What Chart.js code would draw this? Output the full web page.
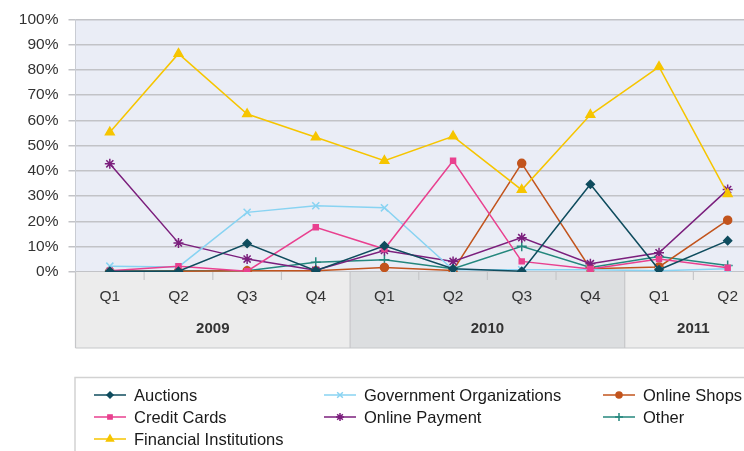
<!DOCTYPE html>
<html>
<head>
<meta charset="utf-8">
<script src="https://cdn.jsdelivr.net/npm/chart.js@4/dist/chart.umd.min.js"></script>
<style>
  html, body { margin: 0; padding: 0; background: #ffffff; overflow: hidden; }
  #wrap { width: 744px; height: 451px; overflow: hidden; position: relative; }
  canvas { display: block; }
</style>
</head>
<body>
<div id="wrap"><canvas id="chart" width="790" height="451"></canvas></div>
<script>
// Quarter categories and the years they belong to
const quarters = ['Q1', 'Q2', 'Q3', 'Q4', 'Q1', 'Q2', 'Q3', 'Q4', 'Q1', 'Q2'];
const years = ['2009', '2010', '2011'];
const quartersPerYear = [4, 4, 2];
const yTicks = [0, 10, 20, 30, 40, 50, 60, 70, 80, 90, 100];

// Share of targets per sector (%)
const auctions = [0.3, 0.3, 11.3, 0.5, 10.4, 1.3, 0.3, 34.7, 0.9, 12.4];
const creditCards = [0.5, 2.3, 0.3, 17.7, 9.1, 44.0, 4.2, 1.2, 5.1, 1.7];
const financialInstitutions = [55.3, 86.4, 62.5, 53.3, 44.0, 53.7, 32.5, 62.2, 81.2, 30.9];
const governmentOrgs = [2.3, 2.0, 23.6, 26.2, 25.4, 0.9, 0.9, 0.9, 0.5, 1.3];
const onlinePayment = [42.8, 11.5, 5.1, 0.7, 8.5, 4.2, 13.6, 3.3, 7.6, 32.6];
const onlineShops = [0.3, 0.3, 0.5, 0.5, 1.8, 0.6, 43.0, 1.3, 2.0, 20.5];
const other = [0.3, 0.5, 0.5, 3.9, 4.8, 1.3, 10.2, 1.8, 6.1, 2.6];

const FONT = '"Liberation Sans", Arial, Helvetica, sans-serif';

function series(label, data, color, pointStyle, radius) {
  return {
    label, data,
    borderColor: color,
    backgroundColor: color,
    pointBackgroundColor: color,
    pointBorderColor: color,
    pointStyle,
    pointRadius: radius,
    pointBorderWidth: 1.5,
    borderWidth: 1.5,
    tension: 0,
    fill: false
  };
}

const datasets = [
  series('Auctions', auctions, '#0f4c5e', 'rectRot', 4),
  series('Credit Cards', creditCards, '#e9408f', 'rect', 3.5),
  series('Financial Institutions', financialInstitutions, '#f6c500', 'triangle', 5),
  series('Government Organizations', governmentOrgs, '#88d3f2', 'crossRot', 5),
  series('Online Payment', onlinePayment, '#7b1f7d', 'star', 5),
  series('Online Shops', onlineShops, '#c2541d', 'circle', 4),
  series('Other', other, '#24877d', 'cross', 5)
];

// Legend layout: columns of dataset indices
const legendColumns = [[0, 1, 2], [3, 4], [5, 6]];
const legendColX = [94, 324, 603];
const legendRowY = [395, 417, 439];

const plotBackground = {
  id: 'plotBackground',
  beforeDraw(chart) {
    const { ctx, chartArea: a } = chart;
    ctx.save();
    ctx.fillStyle = '#eaedf6';
    ctx.fillRect(a.left, a.top, a.right - a.left, a.bottom - a.top);
    ctx.restore();
  }
};

// Two-level category band below the plot: quarters and years
const periodAxis = {
  id: 'periodAxis',
  afterDraw(chart) {
    const { ctx, chartArea: a } = chart;
    const xs = chart.scales.x;
    const top = a.bottom;
    const bottom = top + 76;
    const edge = i => {
      if (i <= 0) return a.left;
      if (i >= quarters.length) return a.right;
      return (xs.getPixelForValue(i - 1) + xs.getPixelForValue(i)) / 2;
    };
    ctx.save();
    let start = 0;
    years.forEach((yr, k) => {
      const x0 = edge(start), x1 = edge(start + quartersPerYear[k]);
      ctx.fillStyle = k % 2 === 1 ? '#dcdee0' : '#ececec';
      ctx.fillRect(x0, top, x1 - x0, bottom - top);
      start += quartersPerYear[k];
    });
    ctx.strokeStyle = '#c6c7c9';
    ctx.lineWidth = 1.2;
    ctx.beginPath();
    ctx.moveTo(a.left, bottom); ctx.lineTo(a.right, bottom);
    ctx.moveTo(a.left, top); ctx.lineTo(a.left, bottom);
    start = 0;
    years.forEach((yr, k) => {
      start += quartersPerYear[k];
      const x = edge(start);
      ctx.moveTo(x, top); ctx.lineTo(x, bottom);
    });
    for (let i = 1; i < quarters.length; i++) {
      ctx.moveTo(edge(i), top); ctx.lineTo(edge(i), top + 8);
    }
    ctx.stroke();

    ctx.fillStyle = '#333333';
    ctx.textAlign = 'center';
    ctx.textBaseline = 'middle';
    ctx.font = '15.5px ' + FONT;
    quarters.forEach((q, i) => ctx.fillText(q, xs.getPixelForValue(i), top + 25));
    ctx.font = 'bold 15px ' + FONT;
    start = 0;
    years.forEach((yr, k) => {
      const x0 = edge(start), x1 = edge(start + quartersPerYear[k]);
      ctx.fillText(yr, (x0 + x1) / 2, top + 57);
      start += quartersPerYear[k];
    });
    ctx.restore();
  }
};

const boxLegend = {
  id: 'boxLegend',
  afterDraw(chart) {
    const { ctx } = chart;
    ctx.save();
    ctx.strokeStyle = '#d2d2d2';
    ctx.lineWidth = 1.5;
    ctx.strokeRect(75, 377.5, 760, 120);
    ctx.font = '16.5px ' + FONT;
    ctx.textBaseline = 'middle';
    ctx.textAlign = 'left';
    legendColumns.forEach((col, c) => {
      col.forEach((di, r) => {
        const ds = chart.data.datasets[di];
        const x = legendColX[c], y = legendRowY[r];
        ctx.strokeStyle = ds.borderColor;
        ctx.fillStyle = ds.borderColor;
        ctx.lineWidth = 1.5;
        ctx.beginPath();
        ctx.moveTo(x, y); ctx.lineTo(x + 32, y);
        ctx.stroke();
        Chart.helpers.drawPoint(ctx, {
          pointStyle: ds.pointStyle,
          radius: Math.max(3, ds.pointRadius - 1),
          borderWidth: 1.5,
          rotation: 0
        }, x + 16, y);
        ctx.fillStyle = '#1a1a1a';
        ctx.fillText(ds.label, x + 40, y + 1);
      });
    });
    ctx.restore();
  }
};

new Chart(document.getElementById('chart'), {
  type: 'line',
  data: { labels: quarters, datasets },
  options: {
    responsive: false,
    animation: false,
    devicePixelRatio: 1,
    layout: { padding: { top: 16, bottom: 179, left: 0, right: 28 } },
    plugins: { legend: { display: false }, tooltip: { enabled: false } },
    scales: {
      x: { type: 'category', offset: true, display: false },
      y: {
        min: 0, max: 100,
        afterFit(s) { s.width = 75.5; },
        afterBuildTicks(s) { s.ticks = yTicks.map(v => ({ value: v })); },
        ticks: {
          callback: v => v + '%',
          color: '#333333',
          padding: 10,
          font: { family: FONT, size: 15.5 }
        },
        grid: { color: '#c2c3c7', lineWidth: 1.5, tickLength: 7 },
        border: { color: '#c9ccd3', width: 1 }
      }
    }
  },
  plugins: [plotBackground, periodAxis, boxLegend]
});
</script>
</body>
</html>
